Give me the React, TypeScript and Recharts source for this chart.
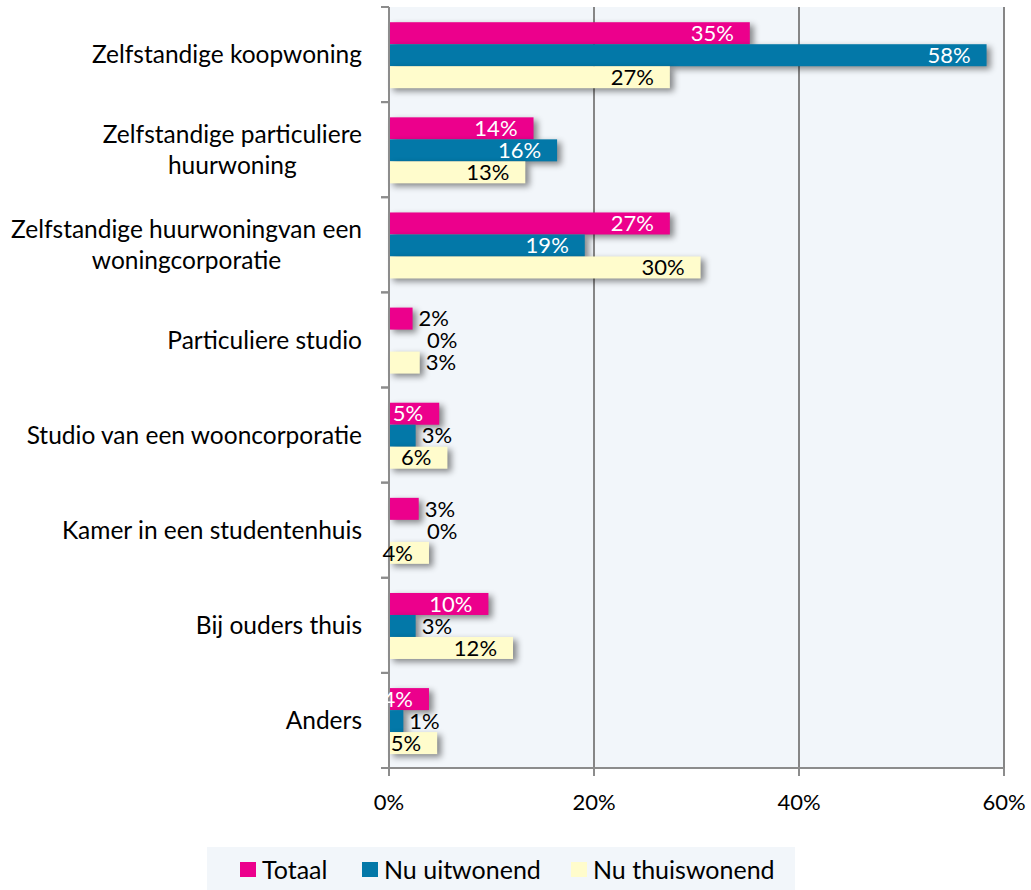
import React from 'react';
import { BarChart, Bar, XAxis, YAxis, CartesianGrid, LabelList } from 'recharts';

const categories = [
  'Zelfstandige koopwoning',
  'Zelfstandige particuliere\nhuurwoning',
  'Zelfstandige huurwoningvan een\nwoningcorporatie',
  'Particuliere studio',
  'Studio van een wooncorporatie',
  'Kamer in een studentenhuis',
  'Bij ouders thuis',
  'Anders',
];
const totaal = [35.2, 14.1, 27.4, 2.3, 4.9, 2.9, 9.7, 3.9];
const uitwonend = [58.3, 16.4, 19.1, 0, 2.6, 0, 2.6, 1.4];
const thuiswonend = [27.4, 13.3, 30.4, 3.0, 5.7, 3.9, 12.1, 4.7];
const xTicks = [0, 20, 40, 60];

const seriesNames = ['Totaal', 'Nu uitwonend', 'Nu thuiswonend'];
const seriesColors = ['#EC008C', '#0378A8', '#FFFCCC'];

const FONT = 'Lato, "Open Sans", sans-serif';
const CAT_SIZE = 24.5;
const NUM_SIZE = 22;
const LEGEND_SIZE = 25;
const AXIS_COLOR = '#8C8C8C';

const PLOT_TOP = 7;
const PLOT_BOTTOM = 768;
const BAND = (PLOT_BOTTOM - PLOT_TOP) / categories.length;

const data = categories.map((name, i) => ({
  name,
  totaal: totaal[i],
  uitwonend: uitwonend[i],
  thuiswonend: thuiswonend[i],
}));

let measureCtx: CanvasRenderingContext2D | null = null;
const measure = (text: string) => {
  if (!measureCtx) measureCtx = document.createElement('canvas').getContext('2d');
  if (!measureCtx) return text.length * 12;
  measureCtx.font = `${CAT_SIZE}px Lato`;
  return measureCtx.measureText(text).width;
};

const CategoryTick = (props: any) => {
  const { x, y, payload } = props;
  const lines = String(payload.value).split('\n');
  const axisX = x + 27;
  const half = BAND / 2;
  const maxW = Math.max(...lines.map(measure));
  const multi = lines.length > 1;
  return (
    <g>
      <line x1={axisX - 8} x2={axisX} y1={y - half} y2={y - half} stroke={AXIS_COLOR} strokeWidth={2} />
      <line x1={axisX - 8} x2={axisX} y1={y + half} y2={y + half} stroke={AXIS_COLOR} strokeWidth={2} />
      <text textAnchor={multi ? 'middle' : 'end'} fontFamily={FONT} fontSize={CAT_SIZE} fill="#000">
        {lines.map((l, i) => (
          <tspan key={i} x={multi ? x - maxW / 2 : x} y={y + (i - (lines.length - 1) / 2) * 31} dy="0.35em">
            {l}
          </tspan>
        ))}
      </text>
    </g>
  );
};

const ShadowBar = (props: any) => {
  const { x, y, width, height, fill } = props;
  return (
    <rect
      x={x}
      y={y}
      width={Math.max(width, 0)}
      height={height}
      fill={fill}
      style={{ filter: 'drop-shadow(4px 3px 3px rgba(0,0,0,0.45))' }}
    />
  );
};

const makeLabel = (insideColor: string) => (props: any) => {
  const { x, y, width, height, value } = props;
  const text = `${Math.round(value)}%`;
  const cy = y + height / 2;
  if (width >= 38) {
    return (
      <text x={x + width - 16} y={cy} dy="0.35em" textAnchor="end" fontFamily={FONT} fontSize={NUM_SIZE} fill={insideColor}>
        {text}
      </text>
    );
  }
  const lx = value === 0 ? x + 38 : x + width + 6;
  return (
    <text x={lx} y={cy} dy="0.35em" textAnchor="start" fontFamily={FONT} fontSize={NUM_SIZE} fill="#000">
      {text}
    </text>
  );
};

const keys = ['totaal', 'uitwonend', 'thuiswonend'];
const labelColors = ['#FFFFFF', '#FFFFFF', '#000000'];

export default function App() {
  return (
    <div style={{ position: 'absolute', left: 0, top: 0, width: 1031, height: 890, background: '#fff' }}>
      <BarChart
        width={1031}
        height={890}
        data={data}
        layout="vertical"
        margin={{ top: PLOT_TOP, right: 27, bottom: 890 - PLOT_BOTTOM - 50, left: 0 }}
        barGap={0}
        barCategoryGap="16%"
      >
        <CartesianGrid horizontal={false} vertical={true} fill="#F2F6FA" stroke="#868686" strokeWidth={2} />
        <XAxis
          type="number"
          domain={[0, 60]}
          ticks={xTicks}
          tickFormatter={(v: number) => `${v}%`}
          axisLine={{ stroke: AXIS_COLOR, strokeWidth: 2 }}
          tickLine={{ stroke: AXIS_COLOR, strokeWidth: 2 }}
          tickSize={8}
          tickMargin={18}
          height={50}
          tick={{ fill: '#000', fontFamily: FONT, fontSize: NUM_SIZE }}
        />
        <YAxis
          type="category"
          dataKey="name"
          width={389}
          axisLine={{ stroke: AXIS_COLOR, strokeWidth: 2 }}
          tickLine={false}
          tickSize={8}
          tickMargin={19}
          interval={0}
          tick={<CategoryTick />}
        />
        {keys.map((k, i) => (
          <Bar key={k} dataKey={k} name={seriesNames[i]} fill={seriesColors[i]} shape={<ShadowBar />} isAnimationActive={false}>
            <LabelList dataKey={k} content={makeLabel(labelColors[i])} />
          </Bar>
        ))}
      </BarChart>
      <div
        style={{
          position: 'absolute',
          left: 207,
          top: 847,
          width: 588,
          height: 43,
          background: '#F2F6FA',
          fontFamily: FONT,
          fontSize: LEGEND_SIZE,
        }}
      >
        {seriesNames.map((n, i) => (
          <div
            key={n}
            style={{
              position: 'absolute',
              left: [33, 155, 364][i],
              top: 7,
              height: 30,
              display: 'flex',
              alignItems: 'center',
              whiteSpace: 'nowrap',
            }}
          >
            <span style={{ display: 'inline-block', width: 16, height: 15, background: seriesColors[i], marginRight: 6 }} />
            <span>{n}</span>
          </div>
        ))}
      </div>
    </div>
  );
}
